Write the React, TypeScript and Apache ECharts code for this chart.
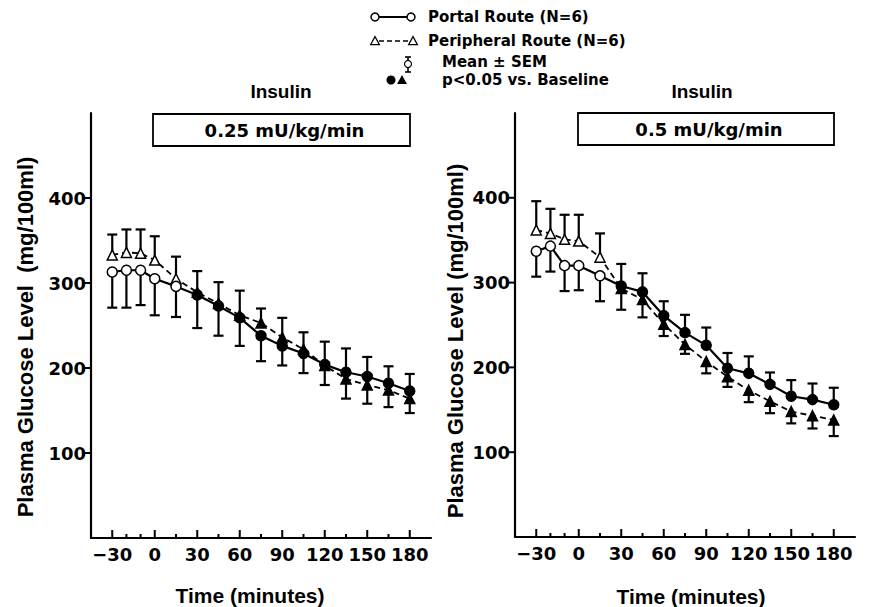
import React, { useEffect, useRef } from "react";
import * as echarts from "echarts";

// ---- data ----
const TIME = [-30, -20, -10, 0, 15, 30, 45, 60, 75, 90, 105, 120, 135, 150, 165, 180];
// p<0.05 vs baseline (filled markers)
const SIGNIFICANT = [false, false, false, false, false, true, true, true, true, true, true, true, true, true, true, true];

// 0.25 mU/kg/min
const LOW_PORTAL = [313, 315, 315, 305, 296, 286, 273, 259, 238, 226, 217, 204, 195, 190, 182, 173];
const LOW_PORTAL_SEM = [42, 44, 41, 43, 36, 39, 35, 33, 30, 23, 23, 27, 28, 23, 20, 20];
const LOW_PORTAL_DIR = [-1, -1, -1, -1, -1, -1, -1, -1, -1, -1, -1, 1, 1, 1, 1, 1];
const LOW_PERIPH = [333, 336, 335, 327, 305, 289, 276, 262, 253, 236, 222, 203, 187, 180, 174, 164];
const LOW_PERIPH_SEM = [24, 27, 28, 28, 26, 25, 25, 29, 17, 23, 20, 23, 23, 22, 20, 17];
const LOW_PERIPH_DIR = [1, 1, 1, 1, 1, 1, 1, 1, 1, 1, 1, -1, -1, -1, -1, -1];

// 0.5 mU/kg/min
const HIGH_PORTAL = [337, 343, 320, 320, 308, 296, 289, 261, 241, 226, 199, 193, 180, 166, 162, 156];
const HIGH_PORTAL_SEM = [30, 30, 30, 29, 30, 26, 22, 17, 21, 21, 18, 20, 14, 19, 19, 20];
const HIGH_PORTAL_DIR = [-1, -1, -1, -1, -1, 1, 1, 1, 1, 1, 1, 1, 1, 1, 1, 1];
const HIGH_PERIPH = [362, 358, 351, 349, 330, 293, 280, 251, 227, 207, 189, 173, 160, 148, 143, 138];
const HIGH_PERIPH_SEM = [34, 29, 29, 31, 28, 25, 21, 14, 11, 14, 12, 14, 14, 14, 15, 19];
const HIGH_PERIPH_DIR = [1, 1, 1, 1, 1, -1, -1, -1, -1, -1, -1, -1, -1, -1, -1, -1];

const X_TICK_LABELS = [-30, 0, 30, 60, 90, 120, 150, 180];
const Y_TICK_LABELS = [100, 200, 300, 400];
const X_MIN = -45;
const X_MAX = 195;
const Y_MIN = 0;
const Y_MAX = 500;

const DOSE_LABELS = ["0.25 mU/kg/min", "0.5 mU/kg/min"];
const Y_NAMES = ["Plasma Glucose Level  (mg/100ml)", "Plasma Glucose Level (mg/100ml)"];
const X_NAME = "Time (minutes)";
const PANEL_TITLE = "Insulin";
const LEGEND_TEXTS = ["Portal Route (N=6)", "Peripheral Route (N=6)", "Mean ± SEM", "p<0.05 vs. Baseline"];

const TICK_FONT = "DejaVu Sans";
const LABEL_FONT = "Liberation Sans";

function lineData(values: number[]) {
  return TIME.map((t, i) => ({
    value: [t, values[i]],
    itemStyle: {
      color: SIGNIFICANT[i] ? "#000" : "#fff",
      borderColor: "#000",
      borderWidth: 1.5,
    },
  }));
}

function errData(values: number[], sem: number[], dir: number[]) {
  return TIME.map((t, i) => [t, values[i], sem[i], dir[i]]);
}

function errRender(_params: any, api: any) {
  const x = api.value(0);
  const y = api.value(1);
  const s = api.value(2);
  const d = api.value(3);
  const p0 = api.coord([x, y]);
  const p1 = api.coord([x, y + d * s]);
  const st = { stroke: "#000", lineWidth: 2.2 };
  return {
    type: "group",
    children: [
      { type: "line", shape: { x1: p0[0], y1: p0[1], x2: p1[0], y2: p1[1] }, style: st },
      { type: "line", shape: { x1: p1[0] - 5, y1: p1[1], x2: p1[0] + 5, y2: p1[1] }, style: st },
    ],
  };
}

function xTickRender(_params: any, api: any) {
  const t = api.value(0);
  const p = api.coord([t, Y_MIN]);
  const len = t % 30 === 0 ? 8 : 4;
  return {
    type: "line",
    shape: { x1: p[0], y1: p[1], x2: p[0], y2: p[1] - len },
    style: { stroke: "#000", lineWidth: 2 },
  };
}

function yTickRender(_params: any, api: any) {
  const v = api.value(1);
  const p = api.coord([X_MIN, v]);
  return {
    type: "line",
    shape: { x1: p[0] - 6, y1: p[1], x2: p[0], y2: p[1] },
    style: { stroke: "#000", lineWidth: 2 },
  };
}

const PANELS = [
  {
    portal: LOW_PORTAL, portalSem: LOW_PORTAL_SEM, portalDir: LOW_PORTAL_DIR,
    periph: LOW_PERIPH, periphSem: LOW_PERIPH_SEM, periphDir: LOW_PERIPH_DIR,
  },
  {
    portal: HIGH_PORTAL, portalSem: HIGH_PORTAL_SEM, portalDir: HIGH_PORTAL_DIR,
    periph: HIGH_PERIPH, periphSem: HIGH_PERIPH_SEM, periphDir: HIGH_PERIPH_DIR,
  },
];

// layout
const GRIDS = [
  { left: 91, top: 113, width: 340, height: 425 },
  { left: 515, top: 113, width: 340, height: 424 },
];
const BOXES = [
  { x: 153, y: 114, w: 257, h: 32 },
  { x: 578, y: 113, w: 256, h: 32 },
];
const TITLE_POS = [
  { x: 281, y: 91 },
  { x: 702, y: 91 },
];
const YNAME_POS = [
  { x: 25, y: 337 },
  { x: 455, y: 341 },
];
const XNAME_POS = [
  { x: 250, y: 595 },
  { x: 691, y: 596 },
];

function buildOption() {
  const series: any[] = [];
  const xAxis: any[] = [];
  const yAxis: any[] = [];
  const grid: any[] = [];
  PANELS.forEach((p, k) => {
    grid.push({ ...GRIDS[k], containLabel: false });
    xAxis.push({
      type: "value",
      gridIndex: k,
      min: X_MIN,
      max: X_MAX,
      interval: 15,
      splitLine: { show: false },
      axisTick: { show: false },
      axisLine: { show: true, onZero: false, lineStyle: { color: "#000", width: 2.2 } },
      axisLabel: {
        margin: 7,
        color: "#000",
        fontFamily: TICK_FONT,
        fontWeight: "bold",
        fontSize: 18,
        lineHeight: 18,
        showMinLabel: false,
        showMaxLabel: false,
        formatter: (v: number) => (X_TICK_LABELS.includes(v) ? (v < 0 ? "\u2212" + Math.abs(v) : String(v)) : ""),
      },
    });
    yAxis.push({
      type: "value",
      gridIndex: k,
      min: Y_MIN,
      max: Y_MAX,
      interval: 100,
      splitLine: { show: false },
      axisTick: { show: false },
      axisLine: { show: true, onZero: false, lineStyle: { color: "#000", width: 2.2 } },
      axisLabel: {
        margin: 5,
        color: "#000",
        fontFamily: TICK_FONT,
        fontWeight: "bold",
        fontSize: 18,
        formatter: (v: number) => (Y_TICK_LABELS.includes(v) ? String(v) : ""),
      },
    });
    const common = { xAxisIndex: k, yAxisIndex: k, silent: true };
    series.push({
      ...common,
      type: "custom",
      renderItem: xTickRender,
      data: TIME.map((t) => [t, Y_MIN]),
      clip: false,
      z: 1,
    });
    series.push({
      ...common,
      type: "custom",
      renderItem: yTickRender,
      data: Y_TICK_LABELS.map((v) => [X_MIN, v]),
      clip: false,
      z: 1,
    });
    series.push({
      ...common,
      type: "custom",
      renderItem: errRender,
      data: errData(p.periph, p.periphSem, p.periphDir),
      clip: false,
      z: 2,
    });
    series.push({
      ...common,
      type: "custom",
      renderItem: errRender,
      data: errData(p.portal, p.portalSem, p.portalDir),
      clip: false,
      z: 2,
    });
    series.push({
      ...common,
      type: "line",
      name: "Peripheral Route (N=6)",
      data: lineData(p.periph),
      symbol: "triangle",
      symbolSize: 10,
      lineStyle: { color: "#000", width: 1.8, type: [6, 4] },
      z: 3,
    });
    series.push({
      ...common,
      type: "line",
      name: "Portal Route (N=6)",
      data: lineData(p.portal),
      symbol: "circle",
      symbolSize: 10,
      lineStyle: { color: "#000", width: 2.2 },
      z: 4,
    });
  });

  const graphic: any[] = [];
  PANELS.forEach((_p, k) => {
    graphic.push({
      type: "text",
      x: TITLE_POS[k].x,
      y: TITLE_POS[k].y,
      style: {
        text: PANEL_TITLE,
        fill: "#000",
        fontFamily: LABEL_FONT,
        fontWeight: "bold",
        fontSize: 19,
        textAlign: "center",
        textVerticalAlign: "middle",
      },
    });
    graphic.push({
      type: "rect",
      shape: { x: BOXES[k].x, y: BOXES[k].y, width: BOXES[k].w, height: BOXES[k].h },
      style: { fill: "none", stroke: "#000", lineWidth: 1.8 },
    });
    graphic.push({
      type: "text",
      x: BOXES[k].x + BOXES[k].w / 2 + 3,
      y: BOXES[k].y + BOXES[k].h / 2,
      style: {
        text: DOSE_LABELS[k],
        fill: "#000",
        fontFamily: TICK_FONT,
        fontWeight: "bold",
        fontSize: 18,
        textAlign: "center",
        textVerticalAlign: "middle",
      },
    });
    graphic.push({
      type: "text",
      x: YNAME_POS[k].x,
      y: YNAME_POS[k].y,
      rotation: Math.PI / 2,
      style: {
        text: Y_NAMES[k],
        fill: "#000",
        fontFamily: LABEL_FONT,
        fontWeight: "bold",
        fontSize: 22,
        textAlign: "center",
        textVerticalAlign: "middle",
      },
    });
    graphic.push({
      type: "text",
      x: XNAME_POS[k].x,
      y: XNAME_POS[k].y,
      style: {
        text: X_NAME,
        fill: "#000",
        fontFamily: LABEL_FONT,
        fontWeight: "bold",
        fontSize: 21,
        textAlign: "center",
        textVerticalAlign: "middle",
      },
    });
  });

  // legend
  const blk = { stroke: "#000", lineWidth: 1.5 };
  const tri = (x: number, y: number, s: number) => [
    [x, y - s * 0.55],
    [x - s * 0.55, y + s * 0.45],
    [x + s * 0.55, y + s * 0.45],
  ];
  graphic.push({ type: "line", shape: { x1: 379, y1: 17, x2: 407, y2: 17 }, style: { stroke: "#000", lineWidth: 2 } });
  graphic.push({ type: "circle", shape: { cx: 375, cy: 17, r: 4 }, style: { fill: "#fff", ...blk } });
  graphic.push({ type: "circle", shape: { cx: 411, cy: 17, r: 4 }, style: { fill: "#fff", ...blk } });
  graphic.push({ type: "line", shape: { x1: 379, y1: 41, x2: 409, y2: 41 }, style: { stroke: "#000", lineWidth: 1.6, lineDash: [5, 3] } });
  graphic.push({ type: "polygon", shape: { points: tri(375, 41, 8) }, style: { fill: "#fff", ...blk, lineWidth: 1.2 } });
  graphic.push({ type: "polygon", shape: { points: tri(413, 41, 8) }, style: { fill: "#fff", ...blk, lineWidth: 1.2 } });
  graphic.push({ type: "line", shape: { x1: 408, y1: 57, x2: 408, y2: 72 }, style: { stroke: "#000", lineWidth: 1.6 } });
  graphic.push({ type: "line", shape: { x1: 405, y1: 57, x2: 411, y2: 57 }, style: { stroke: "#000", lineWidth: 1.6 } });
  graphic.push({ type: "line", shape: { x1: 405, y1: 72, x2: 411, y2: 72 }, style: { stroke: "#000", lineWidth: 1.6 } });
  graphic.push({ type: "circle", shape: { cx: 408, cy: 64, r: 3.5 }, style: { fill: "#fff", ...blk, lineWidth: 1.2 } });
  graphic.push({ type: "circle", shape: { cx: 391, cy: 80, r: 4.5 }, style: { fill: "#000" } });
  graphic.push({ type: "polygon", shape: { points: tri(402, 80, 9) }, style: { fill: "#000" } });
  const legendPos = [
    { x: 428, y: 17 },
    { x: 428, y: 41 },
    { x: 442, y: 62 },
    { x: 442, y: 80 },
  ];
  LEGEND_TEXTS.forEach((t, i) => {
    graphic.push({
      type: "text",
      x: legendPos[i].x,
      y: legendPos[i].y,
      style: {
        text: t,
        fill: "#000",
        fontFamily: TICK_FONT,
        fontWeight: "bold",
        fontSize: 15,
        textAlign: "left",
        textVerticalAlign: "middle",
      },
    });
  });

  return {
    animation: false,
    backgroundColor: "#fff",
    grid,
    xAxis,
    yAxis,
    series,
    graphic,
  };
}

export default function App() {
  const ref = useRef<HTMLDivElement>(null);
  useEffect(() => {
    if (!ref.current) return;
    const chart = echarts.init(ref.current, null, { renderer: "svg" });
    chart.setOption(buildOption() as any);
    return () => chart.dispose();
  }, []);
  return <div ref={ref} style={{ width: 870, height: 607, position: "absolute", left: 0, top: 0 }} />;
}
